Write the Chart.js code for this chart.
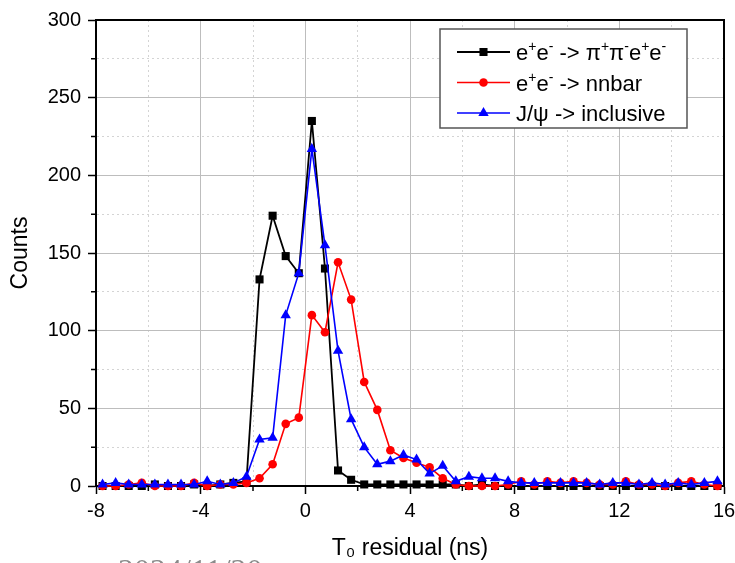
<!DOCTYPE html>
<html>
<head>
<meta charset="utf-8">
<script src="https://cdn.jsdelivr.net/npm/chart.js@4.4.1/dist/chart.umd.min.js"></script>
<style>
html, body { margin: 0; padding: 0; background: #fff; overflow: hidden; }
#wrap { position: relative; width: 735px; height: 563px; overflow: hidden; }
#date { position: absolute; left: 118px; top: 552px; font: 32px "Liberation Serif", serif; color: #8a8a8a; white-space: nowrap; }
</style>
</head>
<body>
<div id="wrap">
  <canvas id="c" width="735" height="563"></canvas>
  <div id="date">2024/11/20</div>
</div>
<script>
// bin centres (ns)
const binCenters = [-7.75, -7.25, -6.75, -6.25, -5.75, -5.25, -4.75, -4.25, -3.75, -3.25, -2.75, -2.25,
  -1.75, -1.25, -0.75, -0.25, 0.25, 0.75, 1.25, 1.75, 2.25, 2.75, 3.25, 3.75,
  4.25, 4.75, 5.25, 5.75, 6.25, 6.75, 7.25, 7.75, 8.25, 8.75, 9.25, 9.75,
  10.25, 10.75, 11.25, 11.75, 12.25, 12.75, 13.25, 13.75, 14.25, 14.75, 15.25, 15.75];

const pipieeCounts = [0, 0, 0, 0, 1, 0, 0, 1, 0, 1, 2, 3,
  133, 174, 148, 137, 235, 140, 10, 4, 1, 1, 1, 1,
  1, 1, 1, 1, 0, 1, 0, 0, 0, 0, 0, 0,
  0, 0, 0, 0, 0, 0, 0, 0, 0, 0, 0, 0];

const nnbarCounts = [0, 0, 1, 2, 0, 0, 0, 2, 0, 1, 1, 2,
  5, 14, 40, 44, 110, 99, 144, 120, 67, 49, 23, 18,
  15, 12, 5, 1, 0, 0, 0, 1, 3, 1, 3, 2,
  3, 2, 1, 1, 3, 1, 1, 0, 2, 3, 1, 0];

const jpsiCounts = [1, 2, 1, 1, 1, 1, 1, 1, 3, 1, 2, 6,
  30, 31, 110, 137, 217, 155, 87, 43, 25, 14, 16, 20,
  17, 8, 13, 3, 6, 5, 5, 3, 2, 2, 2, 2,
  2, 2, 1, 2, 2, 1, 2, 1, 2, 1, 2, 3];

const seriesLabels = ['e⁺e⁻ -> π⁺π⁻e⁺e⁻', 'e⁺e⁻ -> nnbar', 'J/ψ -> inclusive'];
const xRange = [-8, 16];
const yRange = [0, 300];

const FONT = '"Liberation Sans", Arial, sans-serif';

function pts(values) {
  return values.map((v, i) => ({ x: binCenters[i], y: v }));
}

// superscript-aware text for the legend
function drawRich(ctx, text, x, y) {
  const runs = [];
  for (const ch of text) {
    const sup = ch === '⁺' || ch === '⁻';
    const c = ch === '⁺' ? '+' : ch === '⁻' ? '-' : ch;
    const last = runs[runs.length - 1];
    if (last && last.sup === sup) last.t += c;
    else runs.push({ t: c, sup: sup });
  }
  runs.forEach(r => {
    ctx.font = (r.sup ? '14px ' : '22px ') + FONT;
    ctx.fillText(r.t, x, r.sup ? y - 9 : y);
    x += ctx.measureText(r.t).width;
  });
}

function drawMarker(ctx, style, x, y, r) {
  ctx.beginPath();
  if (style === 'rect') {
    const s = r * Math.SQRT1_2;
    ctx.rect(x - s, y - s, 2 * s, 2 * s);
  } else if (style === 'triangle') {
    ctx.moveTo(x, y - r);
    ctx.lineTo(x + 0.866 * r, y + 0.5 * r);
    ctx.lineTo(x - 0.866 * r, y + 0.5 * r);
    ctx.closePath();
  } else {
    ctx.arc(x, y, r, 0, Math.PI * 2);
  }
  ctx.fill();
}

const frame = {
  id: 'frame',
  beforeDatasetsDraw(chart) {
    const { ctx, chartArea: a, scales } = chart;
    ctx.save();
    ctx.strokeStyle = '#000';
    ctx.lineWidth = 2;
    ctx.beginPath();
    ctx.moveTo(a.left, a.top); ctx.lineTo(a.right, a.top); ctx.lineTo(a.right, a.bottom);
    ctx.stroke();
    // minor ticks
    ctx.lineWidth = 1.5;
    ctx.beginPath();
    scales.x.ticks.forEach(t => {
      if (t.value % 4 !== 0) {
        const px = scales.x.getPixelForValue(t.value);
        ctx.moveTo(px, a.bottom); ctx.lineTo(px, a.bottom + 5);
      }
    });
    scales.y.ticks.forEach(t => {
      if (t.value % 50 !== 0) {
        const py = scales.y.getPixelForValue(t.value);
        ctx.moveTo(a.left, py); ctx.lineTo(a.left - 5, py);
      }
    });
    ctx.stroke();
    ctx.restore();
  }
};

const legendBox = {
  id: 'legendBox',
  afterDraw(chart) {
    const ctx = chart.ctx;
    ctx.save();
    ctx.fillStyle = '#fff';
    ctx.strokeStyle = '#555';
    ctx.lineWidth = 1.5;
    ctx.fillRect(440, 29, 247, 99);
    ctx.strokeRect(440, 29, 247, 99);
    chart.data.datasets.forEach((ds, i) => {
      const y = 52 + i * 30.5;
      ctx.strokeStyle = ds.borderColor;
      ctx.lineWidth = ds.borderWidth;
      ctx.beginPath();
      ctx.moveTo(457, y); ctx.lineTo(510, y);
      ctx.stroke();
      ctx.fillStyle = ds.pointBackgroundColor;
      drawMarker(ctx, ds.pointStyle, 483.5, y, ds.pointRadius);
      ctx.fillStyle = '#000';
      ctx.textBaseline = 'alphabetic';
      drawRich(ctx, ds.label, 516, y + 8);
    });
    ctx.restore();
  }
};

new Chart(document.getElementById('c'), {
  type: 'line',
  data: {
    datasets: [
      { label: seriesLabels[0], data: pts(pipieeCounts), borderColor: '#000', pointBackgroundColor: '#000',
        pointBorderColor: '#000', pointStyle: 'rect', pointRadius: 5.7, borderWidth: 1.8, order: 3 },
      { label: seriesLabels[1], data: pts(nnbarCounts), borderColor: '#ff0000', pointBackgroundColor: '#ff0000',
        pointBorderColor: '#ff0000', pointStyle: 'circle', pointRadius: 4.3, borderWidth: 1.6, order: 2 },
      { label: seriesLabels[2], data: pts(jpsiCounts), borderColor: '#0000ff', pointBackgroundColor: '#0000ff',
        pointBorderColor: '#0000ff', pointStyle: 'triangle', pointRadius: 6, borderWidth: 1.6, order: 1 }
    ]
  },
  options: {
    responsive: false,
    animation: false,
    devicePixelRatio: 1,
    layout: { padding: { left: 0, right: 0, top: 20, bottom: 0 } },
    datasets: { line: { tension: 0, clip: false, pointBorderWidth: 0 } },
    plugins: { legend: { display: false }, tooltip: { enabled: false } },
    scales: {
      x: {
        type: 'linear',
        min: xRange[0], max: xRange[1],
        afterFit: s => { s.height = 77; s.paddingRight = 11; },
        ticks: {
          stepSize: 2, autoSkip: false, maxRotation: 0, padding: 5, color: '#000',
          font: { family: FONT, size: 20 },
          callback: v => (v % 4 === 0 ? String(v) : '')
        },
        grid: {
          color: c => (c.tick && c.tick.value % 4 === 0 ? '#bdbdbd' : '#d4d4d4'),
          lineWidth: 1,
          tickLength: 8, tickWidth: 1.5,
          tickColor: c => (c.tick && c.tick.value % 4 === 0 ? '#000' : 'rgba(0,0,0,0)')
        },
        border: {
          color: '#000', width: 2,
          dash: c => (c.tick && c.tick.value % 4 !== 0 ? [2, 3] : [])
        },
        title: {
          display: true, text: 'T₀ residual (ns)', color: '#000',
          font: { family: FONT, size: 23 }, padding: { top: 2, bottom: 1 }
        }
      },
      y: {
        min: yRange[0], max: yRange[1],
        afterFit: s => { s.width = 96; },
        ticks: {
          stepSize: 25, autoSkip: false, padding: 7, color: '#000',
          font: { family: FONT, size: 20 },
          callback: v => (v % 50 === 0 ? String(v) : '')
        },
        grid: {
          color: c => (c.tick && c.tick.value % 50 === 0 ? '#bdbdbd' : '#d4d4d4'),
          lineWidth: 1,
          tickLength: 8, tickWidth: 1.5,
          tickColor: c => (c.tick && c.tick.value % 50 === 0 ? '#000' : 'rgba(0,0,0,0)')
        },
        border: {
          color: '#000', width: 2,
          dash: c => (c.tick && c.tick.value % 50 !== 0 ? [2, 3] : [])
        },
        title: {
          display: true, text: 'Counts', color: '#000',
          font: { family: FONT, size: 23 }, padding: { top: 7, bottom: 0 }
        }
      }
    }
  },
  plugins: [frame, legendBox]
});
</script>
</body>
</html>
